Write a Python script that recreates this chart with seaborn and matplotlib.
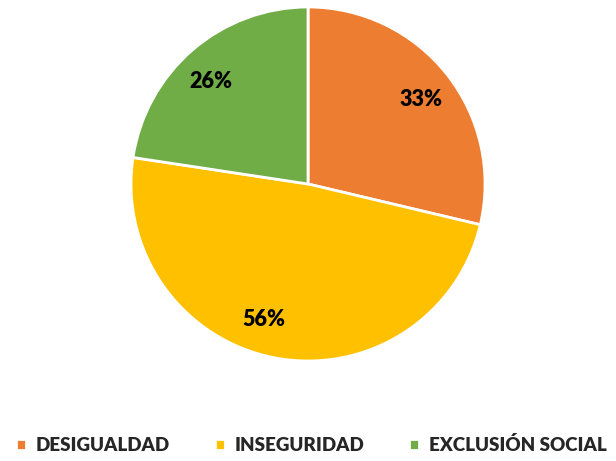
import matplotlib
matplotlib.use("Agg")
import matplotlib.pyplot as plt
import seaborn as sns

categories = ["DESIGUALDAD", "INSEGURIDAD", "EXCLUSIÓN SOCIAL"]
values = [33, 56, 26]
colors = ["#ED7D31", "#FFC000", "#70AD47"]
# small nudges of the data labels (axes units), Excel puts them a bit off-centre
label_nudge = [(0.01, -0.02), (-0.1, 0.02), (-0.03, -0.03)]

sns.set_theme(style="white")
plt.rcParams['font.family'] = ['Lato', 'DejaVu Sans']

pal = sns.color_palette(colors)

fig = plt.figure(figsize=(6.16, 4.61), dpi=100)
ax = fig.add_axes([0.2127, 0.2169, 0.5747, 0.768])

wedges, texts = ax.pie(values, colors=pal, startangle=90, counterclock=False,
                       labels=[f"{v}%" for v in values], labeldistance=0.8,
                       wedgeprops=dict(edgecolor="white", linewidth=2))
for t, (dx, dy) in zip(texts, label_nudge):
    x, y = t.get_position()
    t.set_position((x + dx, y + dy))
    t.set_ha("center")
    t.set_va("center")
    t.set_fontsize(15.5)
    t.set_fontweight("heavy")
    t.set_color("black")
ax.set_xlim(-1, 1)
ax.set_ylim(-1, 1)
ax.set_aspect("equal")
ax.axis("off")

fig.legend(wedges, categories, loc="center", bbox_to_anchor=(0.505, 0.035), ncol=3,
           frameon=False, handlelength=0.55, handleheight=0.55, handletextpad=0.5,
           columnspacing=2.4, prop=dict(size=13.5, weight="heavy"))

fig.savefig("out.png", dpi=100)
